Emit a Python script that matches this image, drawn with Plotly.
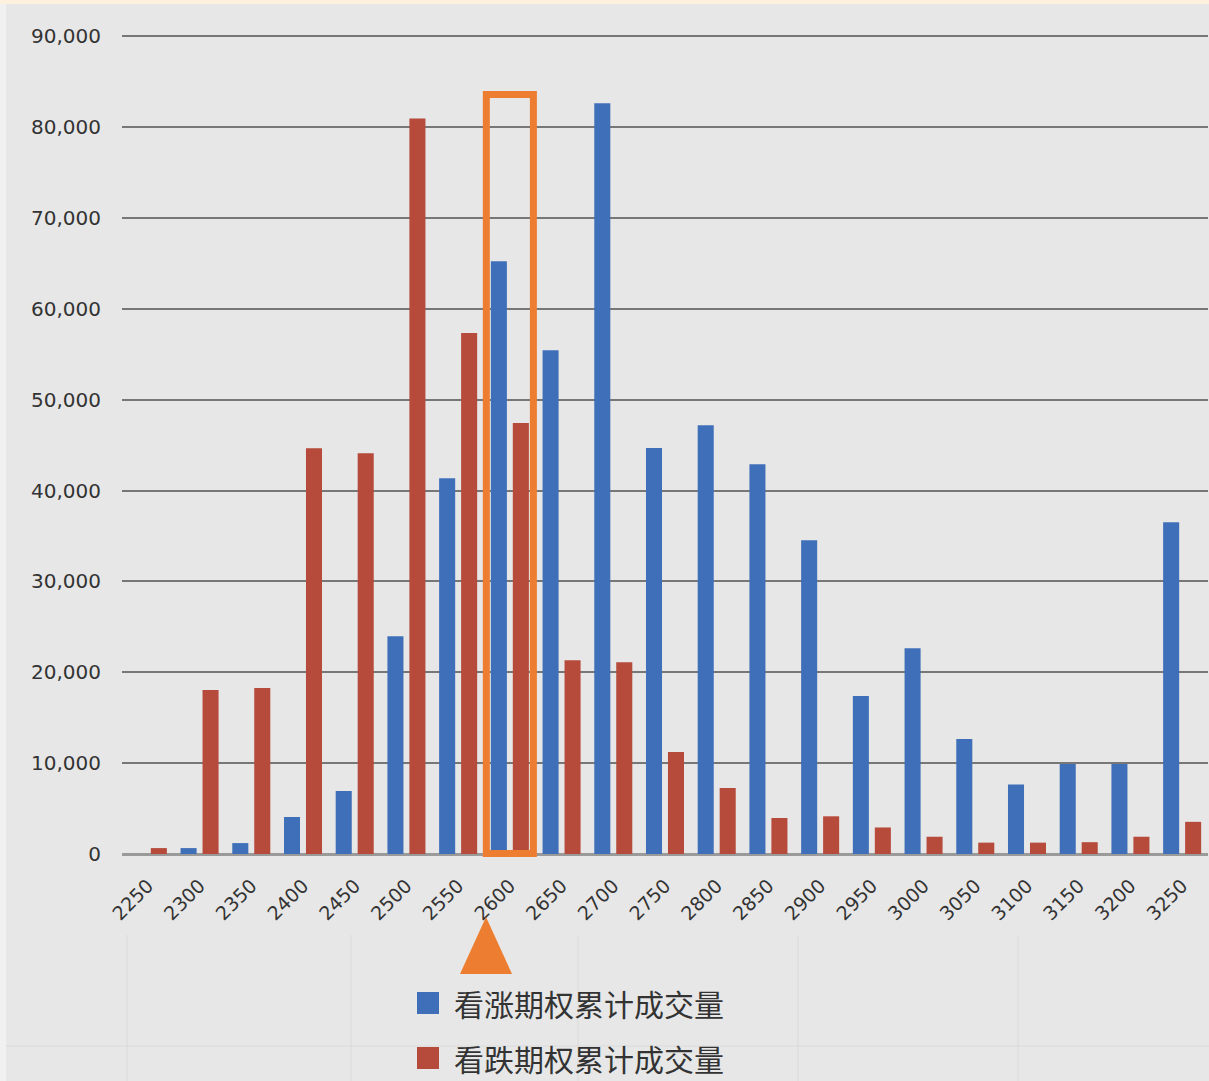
import plotly.graph_objects as go

strikes = ["2250", "2300", "2350", "2400", "2450", "2500", "2550", "2600", "2650", "2700",
           "2750", "2800", "2850", "2900", "2950", "3000", "3050", "3100", "3150", "3200", "3250"]
call_volume = [0, 650, 1200, 4070, 6930, 23980, 41360, 65240, 55450, 82650,
               44700, 47190, 42900, 34540, 17380, 22660, 12650, 7650, 9900, 9900, 36520]
put_volume = [650, 18040, 18260, 44660, 44110, 80970, 57350, 47450, 21340, 21120,
              11220, 7260, 3960, 4150, 2920, 1900, 1250, 1250, 1300, 1900, 3540]
series_names = ["看涨期权累计成交量", "看跌期权累计成交量"]
series_colors = ["#3F6FB8", "#B64A3B"]
y_ticks = [0, 10000, 20000, 30000, 40000, 50000, 60000, 70000, 80000, 90000]
highlight_strike = "2600"

W, H = 1209, 1081
L, R, T, B = 122, 1, 35, 227
pw, ph = W - L - R, H - T - B

def px(xp):
    return (xp - L) / pw

def py(yp):
    return (H - B - yp) / ph

fig = go.Figure()
for name, vals, col in zip(series_names, [call_volume, put_volume], series_colors):
    fig.add_trace(go.Bar(x=strikes, y=vals, name=name, marker=dict(color=col, line=dict(width=0)),
                         showlegend=False))

shapes = []
# background decorations
shapes.append(dict(type="rect", xref="paper", yref="paper", x0=px(0), x1=px(W), y0=py(0), y1=py(4),
                   fillcolor="#FBF1DC", line=dict(width=0), layer="below"))
shapes.append(dict(type="rect", xref="paper", yref="paper", x0=px(0), x1=px(6), y0=py(H), y1=py(4),
                   fillcolor="#F1F1F1", line=dict(width=0), layer="below"))
for xv in [127, 351, 578, 798, 1018]:
    shapes.append(dict(type="line", xref="paper", yref="paper", x0=px(xv), x1=px(xv), y0=py(935), y1=py(H),
                       line=dict(color="#DADADA", width=1), layer="below"))
shapes.append(dict(type="line", xref="paper", yref="paper", x0=px(6), x1=px(W), y0=py(1046), y1=py(1046),
                   line=dict(color="#DADADA", width=1), layer="below"))

# highlight rectangle around 2600
hi = strikes.index(highlight_strike)
shapes.append(dict(type="rect", xref="x", yref="paper", x0=hi - 0.455, x1=hi + 0.455,
                   y0=py(853.5), y1=py(94.5), line=dict(color="#ED7D31", width=7),
                   fillcolor="rgba(0,0,0,0)"))
# orange triangle pointer
shapes.append(dict(type="path", xref="paper", yref="paper",
                   path=f"M {px(460)},{py(974)} L {px(486)},{py(917)} L {px(512)},{py(974)} Z",
                   fillcolor="#ED7D31", line=dict(width=0)))

# custom legend
annotations = []
for i, (name, col) in enumerate(zip(series_names, series_colors)):
    yc = 1003 + i * 55
    shapes.append(dict(type="rect", xref="paper", yref="paper", x0=px(417), x1=px(439),
                       y0=py(yc + 11), y1=py(yc - 11), fillcolor=col, line=dict(width=0)))
    annotations.append(dict(xref="paper", yref="paper", x=px(452), y=py(yc), text=name,
                            showarrow=False, xanchor="left", yanchor="middle",
                            font=dict(family="Noto Sans CJK SC", size=30, color="#333333")))

fig.update_layout(
    width=W, height=H,
    margin=dict(l=L, r=R, t=T, b=B),
    paper_bgcolor="#E7E7E7", plot_bgcolor="#E7E7E7",
    barmode="group", bargap=0.15, bargroupgap=0.27,
    shapes=shapes, annotations=annotations,
    xaxis=dict(type="category", tickangle=-45, showgrid=False, showline=False, ticks="",
               tickfont=dict(family="DejaVu Sans", size=19, color="#333333"),
               ticklabelstandoff=16),
    yaxis=dict(range=[0, 90150], tickvals=y_ticks, tickformat=",", showgrid=True,
               gridcolor="#777777", gridwidth=2, zeroline=True, zerolinecolor="#9A9A9A",
               zerolinewidth=3, showline=False, ticks="",
               tickfont=dict(family="DejaVu Sans", size=20, color="#333333"),
               ticklabelstandoff=20),
    font=dict(family="DejaVu Sans"),
)

fig.write_html("out.html")
